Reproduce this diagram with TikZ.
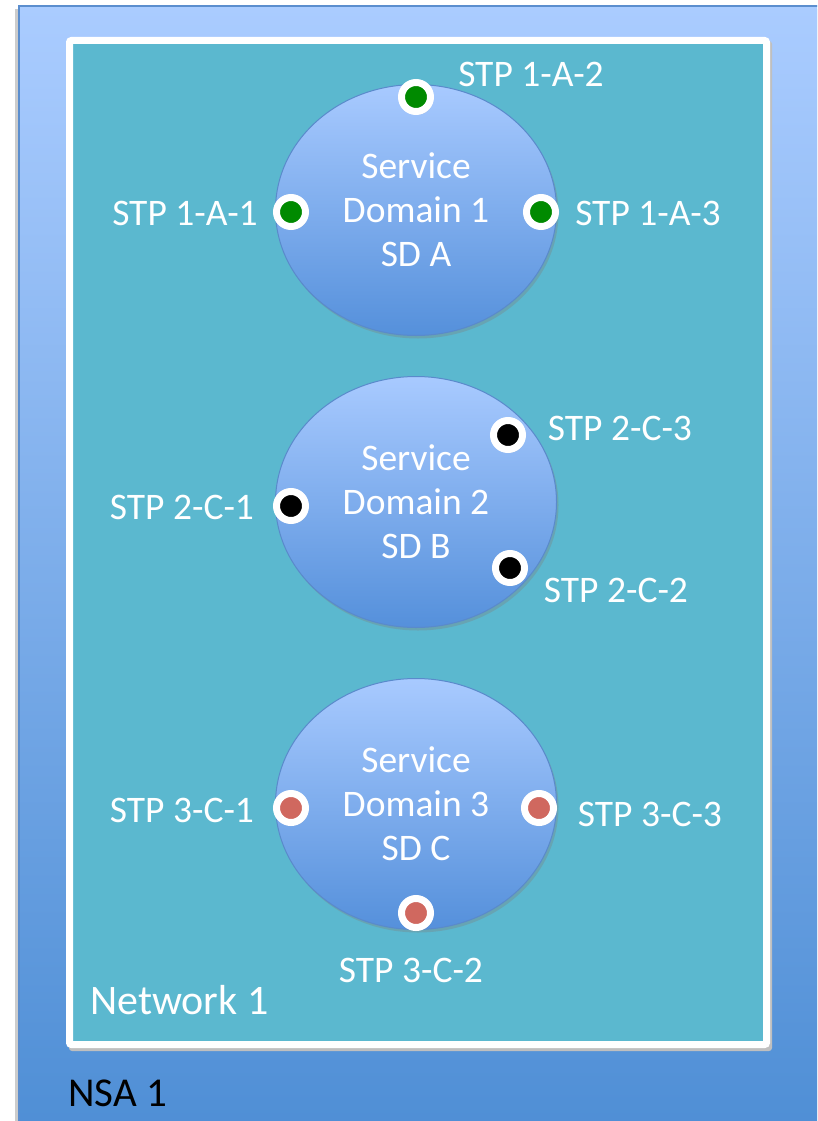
\documentclass[tikz,border=0pt]{standalone}
\usepackage{fontspec}
\setmainfont{Carlito}
\usetikzlibrary{shapes.geometric,shadows}
\definecolor{nsaTop}{HTML}{AACCFF}
\definecolor{nsaBot}{HTML}{4E8ED5}
\definecolor{nsaLine}{HTML}{5B8ECE}
\definecolor{netFill}{HTML}{5BB8CF}
\definecolor{sdTop}{HTML}{A8CAFF}
\definecolor{sdBot}{HTML}{5590DB}
\definecolor{sdLine}{HTML}{5A8ACB}
\definecolor{stpGreen}{HTML}{008A00}
\definecolor{stpRed}{HTML}{D0685F}
\tikzset{
  sdomain/.style={ellipse, minimum width=281, minimum height=251, inner sep=0,
    top color=sdTop, bottom color=sdBot, draw=sdLine, line width=1,
    drop shadow={shadow xshift=2pt, shadow yshift=-3pt, opacity=0.35},
    text=white, font=\fontsize{37.5}{44}\selectfont, align=center},
  stp/.style={circle, minimum size=29, inner sep=0, draw=white, line width=7, fill=#1,
    drop shadow={shadow xshift=2pt, shadow yshift=-3pt, opacity=0.35}},
  stplabel/.style={text=white, font=\fontsize{37.5}{44}\selectfont, inner sep=0},
}
\begin{document}
\begin{tikzpicture}[x=1pt,y=-1pt]
\useasboundingbox (0,0) rectangle (817,1121);
\begin{scope}
\clip (0,0) rectangle (817,1121);
% NSA area
\fill[black!20] (15,9) rectangle (840,1140);
\shade[top color=nsaTop, bottom color=nsaBot, draw=nsaLine, line width=2]
  (19,6) rectangle (840,1140);
\node[anchor=west, font=\fontsize{41}{48}\selectfont, inner sep=0] (nsa) at (68,1093) {NSA 1};
% network area
\fill[black!25, rounded corners=3] (69,41) rectangle (772,1051);
\draw[fill=netFill, draw=white, line width=7, rounded corners=2] (69.5,40.5) rectangle (766.5,1044.5);
\node[anchor=west, text=white, font=\fontsize{42}{48}\selectfont, inner sep=0] (net) at (90,1000) {Network 1};
\end{scope}
% service domains
\node[sdomain] (sd1) at (416,210) {Service\\Domain 1\\SD A};
\node[sdomain] (sd2) at (416,502) {Service\\Domain 2\\SD B};
\node[sdomain] (sd3) at (416,804) {Service\\Domain 3\\SD C};
% service termination points
\node[stp=stpGreen] (p1a2) at (416,97) {};
\node[stp=stpGreen] (p1a1) at (291,212) {};
\node[stp=stpGreen] (p1a3) at (541,212) {};
\node[stp=black] (p2c3) at (508,435) {};
\node[stp=black] (p2c1) at (291,506) {};
\node[stp=black] (p2c2) at (510,568) {};
\node[stp=stpRed] (p3c1) at (291,808) {};
\node[stp=stpRed] (p3c3) at (539,808) {};
\node[stp=stpRed] (p3c2) at (416,913) {};
% labels
\node[stplabel] (l1a2) at (531,74) {STP 1-A-2};
\node[stplabel] (l1a1) at (185,213) {STP 1-A-1};
\node[stplabel] (l1a3) at (648,213) {STP 1-A-3};
\node[stplabel] (l2c3) at (620,428) {STP 2-C-3};
\node[stplabel] (l2c1) at (182,507) {STP 2-C-1};
\node[stplabel] (l2c2) at (616,590) {STP 2-C-2};
\node[stplabel] (l3c1) at (182,810) {STP 3-C-1};
\node[stplabel] (l3c3) at (650,814) {STP 3-C-3};
\node[stplabel] (l3c2) at (411,970) {STP 3-C-2};
\end{tikzpicture}
\end{document}
